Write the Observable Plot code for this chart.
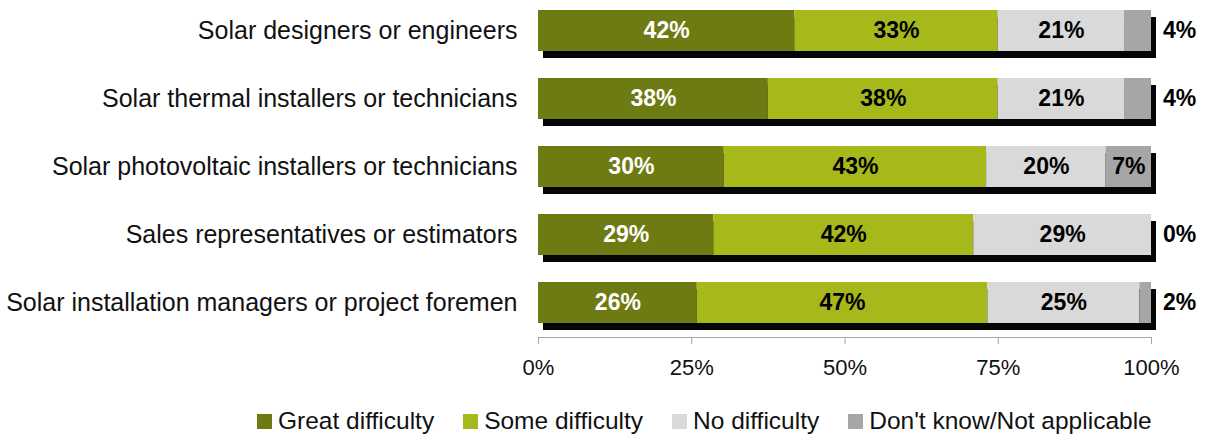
<!DOCTYPE html>
<html>
<head>
<meta charset="utf-8">
<script src="https://cdn.jsdelivr.net/npm/d3@7"></script>
<script src="https://cdn.jsdelivr.net/npm/@observablehq/plot@0.6"></script>
<style>
  html, body { margin: 0; padding: 0; background: #fff; }
  body { width: 1206px; height: 437px; overflow: hidden; font-family: "Liberation Sans", Arial, sans-serif; }
  #legend { display: flex; align-items: center; margin-top: 12px; padding-left: 257px; font-size: 24.5px; color: #111; }
  #legend .item { display: flex; align-items: center; margin-right: 29px; }
  #legend .sw { width: 15px; height: 15px; margin-right: 6px; }
</style>
</head>
<body>
<div id="chart"></div>
<div id="legend"></div>
<script>
const categories = [
  "Solar designers or engineers",
  "Solar thermal installers or technicians",
  "Solar photovoltaic installers or technicians",
  "Sales representatives or estimators",
  "Solar installation managers or project foremen"
];
const responses = ["Great difficulty", "Some difficulty", "No difficulty", "Don't know/Not applicable"];
const greatDifficulty = [41.8, 37.5, 30.3, 28.6, 25.9];
const someDifficulty  = [33.2, 37.5, 42.8, 42.4, 47.4];
const noDifficulty    = [20.6, 20.6, 19.5, 29.0, 24.8];
const dontKnow        = [4.4, 4.4, 7.4, 0, 1.9];
const colors = ["#6e7b13", "#a7b81b", "#d9d9d9", "#a6a6a6"];
const xTicks = [0, 25, 50, 75, 100];

const series = [greatDifficulty, someDifficulty, noDifficulty, dontKnow];
const data = [];
categories.forEach((c, i) => {
  responses.forEach((r, j) => {
    data.push({category: c, response: r, value: series[j][i], order: j});
  });
});
const totals = categories.map((c, i) => ({category: c, start: 0, end: d3.sum(series, s => s[i])}));
const label = d => Math.round(d.value) + "%";
const isOutside = d => d.response === responses[3] && d.value < 5;

const chart = Plot.plot({
  width: 1206,
  height: 395,
  marginLeft: 538,
  marginRight: 55,
  marginTop: 0,
  marginBottom: 58,
  style: {fontFamily: "'Liberation Sans', Arial, sans-serif", color: "#000", background: "#fff"},
  x: {domain: [0, 100]},
  y: {domain: categories, range: [-5, 337], paddingInner: 0.404, paddingOuter: 0.19},
  color: {domain: responses, range: colors},
  marks: [
    Plot.barX(totals, {y: "category", x1: "start", x2: "end", fill: "#050505", dx: 5, dy: 7}),
    Plot.barX(data, Plot.stackX({y: "category", x: "value", fill: "response", order: responses})),
    Plot.text(data.filter(d => !isOutside(d)), Plot.stackX({
      y: "category", x: "value", z: "response", order: responses, text: label,
      fill: d => d.order === 0 ? "#fff" : "#000",
      fontSize: 23, fontWeight: "bold"
    })),
    Plot.text(data.filter(isOutside), {
      y: "category", x: 100, text: label, dx: 28, fill: "#000",
      fontSize: 23, fontWeight: "bold", textAnchor: "middle"
    }),
    Plot.frame({anchor: "bottom", stroke: "#a6a6a6"}),
    Plot.axisX(xTicks, {anchor: "bottom", tickSize: 7, tickPadding: 15, tickFormat: d => d + "%", fontSize: 22, stroke: "#a6a6a6", fill: "#111", label: null}),
    Plot.axisY({tickSize: 0, tickPadding: 21, fontSize: 25, fill: "#111", label: null})
  ]
});
document.getElementById("chart").appendChild(chart);

const legend = document.getElementById("legend");
responses.forEach((r, i) => {
  const item = document.createElement("div");
  item.className = "item";
  const sw = document.createElement("div");
  sw.className = "sw";
  sw.style.background = colors[i];
  const t = document.createElement("span");
  t.textContent = r;
  item.appendChild(sw);
  item.appendChild(t);
  legend.appendChild(item);
});
</script>
</body>
</html>
